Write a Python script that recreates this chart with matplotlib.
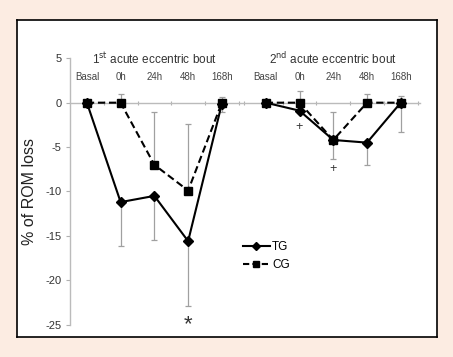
import matplotlib
matplotlib.use("Agg")
import matplotlib.pyplot as plt
from matplotlib.lines import Line2D
import numpy as np

plt.rcParams['font.family'] = ['Liberation Sans', 'DejaVu Sans']

timepoints = ['Basal', '0h', '24h', '48h', '168h']
bout_titles = ['1$^{\\rm st}$ acute eccentric bout', '2$^{\\rm nd}$ acute eccentric bout']

tg_bout1 = [0, -11.2, -10.5, -15.6, -0.1]
tg_bout1_err = [0, 4.9, 5.0, 7.3, 0.9]
cg_bout1 = [0, 0, -7.0, -9.9, 0]
cg_bout1_err = [0, 1.0, 6.0, 7.5, 0.6]

tg_bout2 = [0, -0.9, -4.2, -4.5, 0]
tg_bout2_err = [0, 0, 2.2, 2.5, 3.3]
cg_bout2 = [0, 0, -4.2, 0, 0]
cg_bout2_err = [0, 1.3, 3.2, 1.0, 0.75]

fig = plt.figure(figsize=(4.53, 3.57), dpi=100)
fig.patch.set_facecolor('#FCECE2')

panel = fig.add_axes([17/453, 20/357, 420/453, 317/357], zorder=-1)
panel.set_facecolor('white')
panel.set_xticks([])
panel.set_yticks([])
for s in panel.spines.values():
    s.set_color('black')
    s.set_linewidth(1.2)

ax = fig.add_axes([70/453, (357-324.6)/357, 350/453, (324.6-58.3)/357], zorder=1)
ax.set_facecolor('none')

n = len(timepoints)
x1 = np.arange(n, dtype=float)
x2 = x1 + n + 0.3

errc = '#A0A0A0'
for xs, tg, tge, cg, cge in [(x1, tg_bout1, tg_bout1_err, cg_bout1, cg_bout1_err),
                             (x2, tg_bout2, tg_bout2_err, cg_bout2, cg_bout2_err)]:
    ax.errorbar(xs, tg, yerr=[tge, np.zeros(n)], fmt='none', ecolor=errc, elinewidth=0.9,
                capsize=2, capthick=0.9, zorder=2)
    ax.errorbar(xs, cg, yerr=[np.zeros(n), cge], fmt='none', ecolor=errc, elinewidth=0.9,
                capsize=2, capthick=0.9, zorder=2)
    ax.plot(xs, cg, color='black', linestyle=(0, (3.5, 1.8)), linewidth=1.5, marker='s',
            markersize=6, zorder=3)
    ax.plot(xs, tg, color='black', linestyle='-', linewidth=1.5, marker='D',
            markersize=5.5, zorder=4)

ax.set_xlim(-0.5, 9.87)
ax.set_ylim(-25, 5)
ax.set_yticks([5, 0, -5, -10, -15, -20, -25])
ax.set_yticklabels(['5', '0', '-5', '-10', '-15', '-20', '-25'], fontsize=8, color='#333333')
ax.tick_params(axis='y', length=3, width=0.8, color='#B0B0B0', pad=3)

for s in ['top', 'right']:
    ax.spines[s].set_visible(False)
ax.spines['left'].set_color('#BBBBBB')
ax.spines['left'].set_linewidth(1.0)
ax.spines['bottom'].set_position(('data', 0))
ax.spines['bottom'].set_color('#BBBBBB')
ax.spines['bottom'].set_linewidth(1.0)
mids = list(x1 + 0.5) + [x2[0] - 0.65] + list(x2 + 0.5)
ax.set_xticks(mids)
ax.set_xticklabels([])
ax.tick_params(axis='x', length=3, width=0.8, color='#B0B0B0', direction='inout')

ax.set_ylabel('% of ROM loss', fontsize=11.5, color='#222222', labelpad=6)

for xs, title in [(x1, bout_titles[0]), (x2, bout_titles[1])]:
    for xi, lab in zip(xs, timepoints):
        ax.text(xi, 2.9, lab, ha='center', va='center', fontsize=7, color='#444444')
    ax.text(xs[2], 4.95, title, ha='center', va='center', fontsize=8.5, color='#333333')

ax.text(x2[1], -2.7, '+', ha='center', va='center', fontsize=9, color='#333333')
ax.text(x2[2], -7.5, '+', ha='center', va='center', fontsize=9, color='#333333')
ax.text(x1[3], -25.0, '*', ha='center', va='center', fontsize=16, color='#333333', clip_on=False)

handles = [Line2D([], [], color='black', linestyle='-', linewidth=1.5, marker='D', markersize=4),
           Line2D([], [], color='black', linestyle=(0, (3, 1.5)), linewidth=1.5, marker='s', markersize=5)]
ax.legend(handles, ['TG', 'CG'], loc='center left', bbox_to_anchor=(232/453, (357-256)/357),
          bbox_transform=fig.transFigure, frameon=False, fontsize=8.5, handlelength=2.3,
          handletextpad=0.2, labelspacing=0.55)

fig.savefig('out.png', dpi=100, facecolor=fig.get_facecolor())
